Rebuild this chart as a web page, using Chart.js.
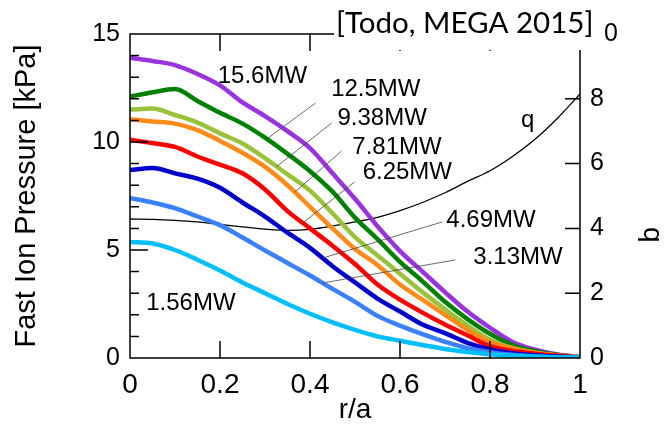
<!DOCTYPE html>
<html>
<head>
<meta charset="utf-8">
<title>Fast ion pressure profiles</title>
<script src="https://cdn.jsdelivr.net/npm/chart.js@4.4.1/dist/chart.umd.min.js"></script>
<style>
  body { margin: 0; background: #fff; }
</style>
</head>
<body>
<canvas id="pressure" width="666" height="427"></canvas>
<script>
// normalised minor radius r/a
const radius = [0, 0.05, 0.1, 0.15, 0.2, 0.25, 0.3, 0.35, 0.4, 0.45, 0.5,
                0.55, 0.6, 0.65, 0.7, 0.75, 0.8, 0.85, 0.9, 0.95, 1];

// fast ion pressure [kPa] for each NBI power
const p156 = [5.37, 5.3, 5.0, 4.55, 4.05, 3.5, 3.0, 2.5, 2.05, 1.65, 1.3, 1.0, 0.8, 0.6, 0.42, 0.28, 0.17, 0.1, 0.06, 0.03, 0.02];
const p313 = [7.4, 7.2, 6.94, 6.55, 6.15, 5.58, 4.98, 4.4, 3.82, 3.2, 2.6, 1.95, 1.5, 1.1, 0.75, 0.45, 0.27, 0.15, 0.08, 0.04, 0.02];
const p469 = [8.7, 8.8, 8.55, 8.3, 7.88, 7.2, 6.55, 5.8, 5.1, 4.25, 3.5, 2.75, 2.15, 1.55, 1.15, 0.7, 0.4, 0.22, 0.13, 0.07, 0.03];
const p625 = [10.1, 9.95, 9.77, 9.33, 8.95, 8.55, 7.8, 6.8, 6.0, 5.2, 4.35, 3.4, 2.7, 2.1, 1.55, 1.05, 0.55, 0.33, 0.2, 0.1, 0.03];
const p781 = [11.05, 10.95, 10.85, 10.55, 10.05, 9.5, 8.85, 8.0, 7.0, 6.0, 5.05, 4.3, 3.4, 2.7, 2.0, 1.3, 0.75, 0.45, 0.25, 0.12, 0.04];
const p938 = [11.5, 11.55, 11.25, 10.9, 10.4, 9.93, 9.25, 8.5, 7.75, 6.7, 5.6, 4.75, 3.9, 3.05, 2.25, 1.5, 0.85, 0.45, 0.24, 0.11, 0.04];
const p125 = [12.1, 12.3, 12.45, 11.9, 11.35, 10.85, 10.2, 9.45, 8.65, 7.7, 6.5, 5.5, 4.45, 3.55, 2.6, 1.8, 1.12, 0.6, 0.32, 0.14, 0.04];
const p156hi = [13.9, 13.75, 13.56, 13.15, 12.62, 11.83, 11.2, 10.5, 9.72, 8.55, 7.37, 6.1, 4.95, 4.0, 3.05, 2.15, 1.4, 0.74, 0.38, 0.16, 0.05];

// safety factor profile
const qProfile = [4.29, 4.28, 4.25, 4.2, 4.12, 4.05, 3.98, 3.94, 3.97, 4.07, 4.2,
                  4.34, 4.55, 4.8, 5.1, 5.45, 5.78, 6.22, 6.75, 7.4, 8.15];

const powers = ["1.56MW", "3.13MW", "4.69MW", "6.25MW", "7.81MW", "9.38MW", "12.5MW", "15.6MW"];
const profiles = [p156, p313, p469, p625, p781, p938, p125, p156hi];
const colors = ["#00bfff", "#3a80ff", "#0000cc", "#ff0000", "#ff8c1a", "#99c23a", "#008000", "#9933dd"];

const xTicks = [0, 0.2, 0.4, 0.6, 0.8, 1];
const pTicks = [0, 5, 10, 15];
const qTicks = [0, 2, 4, 6, 8, 10];

// label placement (data coords); leaders run from `from` to the curve at `toX`
const tags = [
  { i: 7, x: 0.195, y: 13.06 },
  { i: 6, x: 0.447, y: 12.45, from: [0.412, 11.8], toX: 0.304 },
  { i: 5, x: 0.461, y: 11.1, from: [0.448, 10.88], toX: 0.326 },
  { i: 4, x: 0.494, y: 9.77, from: [0.47, 9.58], toX: 0.366 },
  { i: 3, x: 0.517, y: 8.6, from: [0.499, 8.15], toX: 0.384 },
  { i: 2, x: 0.703, y: 6.39, from: [0.694, 6.3], toX: 0.428 },
  { i: 1, x: 0.763, y: 4.68, from: [0.723, 4.54], toX: 0.428 },
  { i: 0, x: 0.036, y: 2.55 }
];

function valueAt(series, r) {
  for (let k = 1; k < radius.length; k++) {
    if (r <= radius[k]) {
      const t = (r - radius[k - 1]) / (radius[k] - radius[k - 1]);
      return series[k - 1] + t * (series[k] - series[k - 1]);
    }
  }
  return series[series.length - 1];
}

const toPoints = (ys) => radius.map((r, k) => ({ x: r, y: ys[k] }));

Chart.defaults.font.family = '"Liberation Sans", Arial, sans-serif';
Chart.defaults.color = "#000";

// frame, inward ticks, labels and the citation
const overlay = {
  id: "overlay",
  afterDraw(chart) {
    const { ctx, chartArea: a } = chart;
    const { x, y, q } = chart.scales;
    ctx.save();
    ctx.strokeStyle = "#000";
    ctx.lineWidth = 1.5;
    ctx.beginPath();
    ctx.rect(a.left, a.top, a.right - a.left, a.bottom - a.top);
    ctx.stroke();

    ctx.beginPath();
    xTicks.slice(1, -1).forEach(v => {
      const px = x.getPixelForValue(v);
      ctx.moveTo(px, a.bottom); ctx.lineTo(px, a.bottom - 17);
      ctx.moveTo(px, a.top); ctx.lineTo(px, a.top + 17);
    });
    for (let v = 1; v < 15; v++) {
      const py = y.getPixelForValue(v);
      ctx.moveTo(a.left, py); ctx.lineTo(a.left + (v % 5 ? 9 : 18), py);
    }
    qTicks.slice(1, -1).forEach(v => {
      const py = q.getPixelForValue(v);
      ctx.moveTo(a.right, py); ctx.lineTo(a.right - 15, py);
    });
    ctx.stroke();

    // leader lines
    ctx.strokeStyle = "#444";
    ctx.lineWidth = 0.8;
    ctx.beginPath();
    tags.filter(t => t.from).forEach(t => {
      ctx.moveTo(x.getPixelForValue(t.from[0]), y.getPixelForValue(t.from[1]));
      ctx.lineTo(x.getPixelForValue(t.toX), y.getPixelForValue(valueAt(profiles[t.i], t.toX)));
    });
    ctx.stroke();

    ctx.fillStyle = "#000";
    ctx.font = '24px "Liberation Sans", Arial, sans-serif';
    ctx.textBaseline = "middle";
    tags.forEach(t => {
      ctx.fillText(powers[t.i], x.getPixelForValue(t.x), y.getPixelForValue(t.y));
    });
    ctx.textBaseline = "alphabetic";
    ctx.fillText("q", x.getPixelForValue(0.869), y.getPixelForValue(10.69));

    // right axis title, turned clockwise
    ctx.save();
    ctx.translate(652, q.getPixelForValue(3.8));
    ctx.rotate(Math.PI / 2);
    ctx.textAlign = "center";
    ctx.textBaseline = "middle";
    ctx.font = '28px "Liberation Sans", Arial, sans-serif';
    ctx.fillText("q", 0, 0);
    ctx.restore();

    // citation box over the top edge
    ctx.fillStyle = "#fff";
    ctx.fillRect(334, 0, 271, 50);
    ctx.fillStyle = "#000";
    ctx.font = "29.5px Lato, sans-serif";
    ctx.fillText("[Todo, MEGA 2015]", 336, 33);
    ctx.restore();
  }
};

const datasets = profiles.map((ys, k) => ({
  label: powers[k],
  data: toPoints(ys),
  borderColor: colors[k],
  borderWidth: 4.5,
  pointRadius: 0,
  cubicInterpolationMode: "monotone",
  yAxisID: "y"
}));
datasets.push({
  label: "q",
  data: toPoints(qProfile),
  borderColor: "#000",
  borderWidth: 1.3,
  pointRadius: 0,
  cubicInterpolationMode: "monotone",
  yAxisID: "q"
});

new Chart(document.getElementById("pressure"), {
  type: "line",
  data: { datasets },
  options: {
    responsive: false,
    animation: false,
    layout: { padding: { top: 34 } },
    plugins: { legend: { display: false }, tooltip: { enabled: false } },
    scales: {
      x: {
        type: "linear",
        min: 0, max: 1,
        afterBuildTicks: s => { s.ticks = xTicks.map(v => ({ value: v })); },
        afterFit: s => { s.height = 69; },
        ticks: { font: { size: 28 }, padding: 10, maxRotation: 0, callback: v => String(v) },
        grid: { display: false, drawTicks: false },
        border: { display: false },
        title: { display: true, text: "r/a", font: { size: 28 }, padding: { top: 0, bottom: 0 } }
      },
      y: {
        position: "left",
        min: 0, max: 15,
        afterBuildTicks: s => { s.ticks = pTicks.map(v => ({ value: v })); },
        afterFit: s => { s.width = 130; },
        ticks: { font: { size: 25 }, padding: 10 },
        grid: { display: false, drawTicks: false },
        border: { display: false },
        title: { display: true, text: "Fast Ion Pressure [kPa]", font: { size: 29, lineHeight: 1 }, padding: { top: 12, bottom: 0 } }
      },
      q: {
        position: "right",
        min: 0, max: 10,
        afterBuildTicks: s => { s.ticks = qTicks.map(v => ({ value: v })); },
        afterFit: s => { s.width = 86; },
        ticks: { font: { size: 25 }, padding: 10 },
        grid: { display: false, drawTicks: false },
        border: { display: false }
      }
    }
  },
  plugins: [overlay]
});
</script>
</body>
</html>
